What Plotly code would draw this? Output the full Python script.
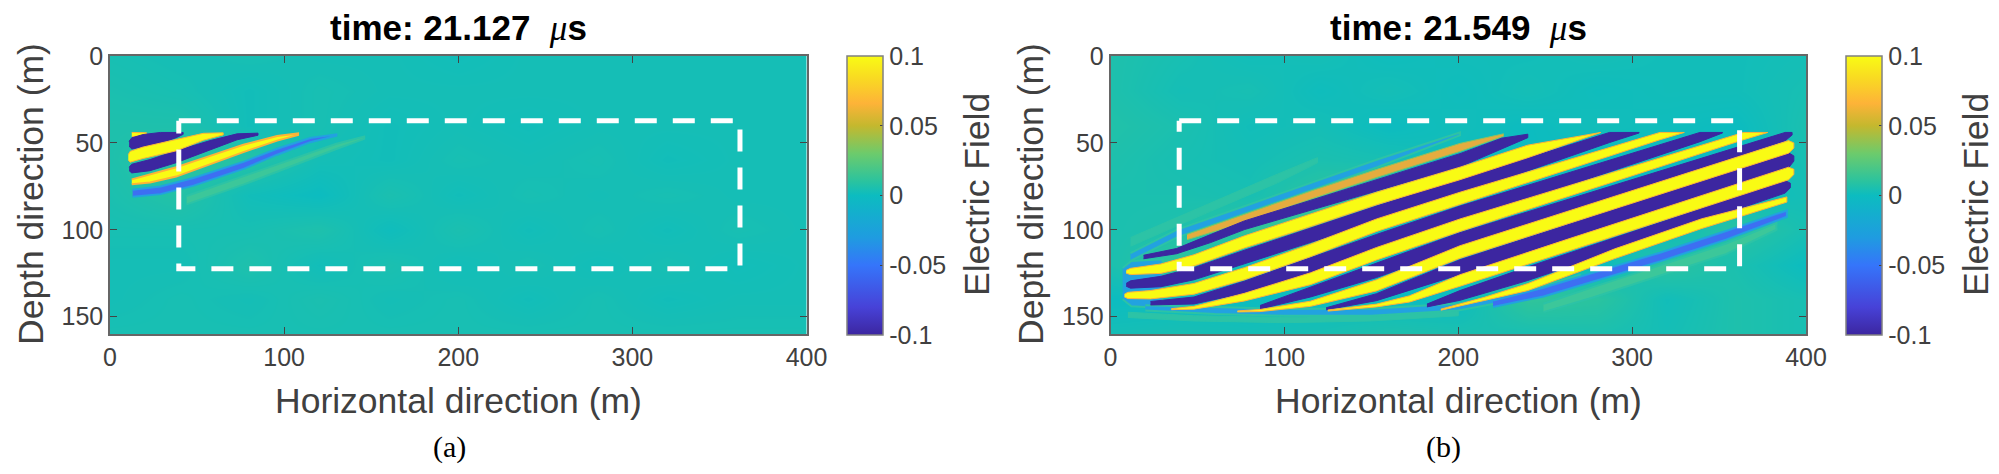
import numpy as np
import plotly.graph_objects as go

W, H = 1999, 474
TOP_DEPTH = 44.0

# ---------- axes / labels ----------
x_ticks = [0, 100, 200, 300, 400]
y_ticks = [0, 50, 100, 150]
cb_ticks = [-0.1, -0.05, 0, 0.05, 0.1]
cb_labels = ["-0.1", "-0.05", "0", "0.05", "0.1"]
times = ["21.127", "21.549"]
captions = ["(a)", "(b)"]

# dashed rectangle (m)
rect_x = [39.5, 361.8, 361.8, 39.5, 39.5]
rect_y = [37.2, 37.2, 122.5, 122.5, 37.2]

parula = [
    [0.00, "#3c26a0"], [0.10, "#4742d8"], [0.25, "#3575fa"], [0.35, "#1f9ce0"],
    [0.50, "#0cbcc0"], [0.55, "#2ac39f"], [0.65, "#6ccb6c"], [0.75, "#c4b82e"],
    [0.83, "#fdb338"], [0.92, "#f9da22"], [1.00, "#f9fb14"],
]

# ---------- faint background field, read on a coarse grid ----------
grid_x = [0, 40, 80, 120, 160, 200, 240, 280, 320, 360, 400]
grid_y = [0, 20, 40, 60, 80, 100, 120, 140, 160]
bg_a = [
    [.004, .003, .004, .003, .003, .002, .003, .003, .003, .003, .003],
    [.005, .004, .002, .004, .003, .003, .003, .003, .003, .003, .003],
    [.006, .006, .002, .004, .002, .003, .002, .003, .003, .003, .003],
    [.006, .010, .008, .003, .002, .004, .003, .004, .002, .003, .003],
    [.005, .008, .002, .000, .005, .002, .004, .003, .004, .003, .003],
    [.004, .004, .004, .006, .001, .005, .002, .004, .002, .004, .003],
    [.003, .003, .006, .002, .005, .002, .004, .002, .004, .002, .003],
    [.003, .004, .003, .005, .003, .004, .002, .004, .002, .003, .003],
    [.004, .004, .004, .004, .004, .004, .004, .004, .004, .004, .004],
]
bg_b = [
    [.006, .004, .002, .003, .001, .002, .002, .003, .002, .002, .003],
    [.006, .003, .004, .001, .003, .001, .003, .001, .002, .002, .004],
    [.007, .005, .002, .003, .000, .002, .000, .002, .001, .000, .005],
    [.006, .004, .003, .005, .004, .001, .000, .000, .000, .000, .004],
    [.005, .005, .004, .010, .012, .000, .000, .000, .000, .000, .003],
    [.005, .006, .012, .016, .000, .000, .000, .000, .000, .010, .004],
    [.005, .012, .000, .000, .000, .000, .000, .000, .010, .005, .000],
    [.000, .000, .000, .000, .000, .000, .012, .010, .002, .006, .004],
    [.003, .004, .003, .004, .006, .005, .004, .005, .003, .006, .004],
]

# ---------- panel (a): band centre x, depth, half width (m) ----------
a_green_x = [44, 77, 105, 130, 146]
a_green_d = [83, 71.5, 61, 52, 47]
a_green_w = [2.4, 2.4, 2.0, 1.5, 0.7]
a_blue_x = [13, 29, 48, 77, 96, 115, 130]
a_blue_d = [79, 77.3, 72.4, 62.8, 55.1, 48.4, 45.5]
a_blue_w = [2.0, 2.2, 2.2, 2.0, 1.7, 1.2, 0.4]
a_y0_x = [12.5, 16, 21]
a_y0_d = [45.2, 45.2, 45.0]
a_y0_w = [1.2, 1.2, 0.8]
a_p1_x = [11, 12.5, 19, 29, 38, 42]
a_p1_d = [50.5, 50.3, 48.8, 46.9, 45.2, 44.5]
a_p1_w = [1.5, 3.2, 3.6, 3.2, 1.8, 0.6]
a_y1_x = [10.5, 11.5, 19, 38, 53.6, 65]
a_y1_d = [58.3, 58, 55.7, 51.3, 46.5, 44.8]
a_y1_w = [1.5, 3.1, 3.3, 3.3, 2.0, 0.6]
a_p2_x = [11, 12.5, 23, 38, 57.5, 73, 85]
a_p2_d = [65, 64.8, 62.8, 58, 51.3, 46.5, 45]
a_p2_w = [1.0, 2.5, 3.2, 3.4, 2.6, 1.7, 0.6]
a_y2_x = [12.5, 23, 38, 57.5, 76.6, 96, 108]
a_y2_d = [72.4, 70.5, 66.7, 60, 53.2, 47.4, 45]
a_y2_w = [1.4, 2.3, 2.7, 2.5, 2.1, 1.3, 0.4]

# ---------- panel (b) ----------
b_under_x = [7, 12, 30]
b_under_d = [131, 131, 131]
b_under_w = [9, 13, 14]
b_env_x = [20, 60, 100, 150, 200, 240, 270]
b_env_d = [145, 146.5, 147.5, 147.5, 144.5, 137, 128]
b_env_w = [1.5, 2, 2, 2, 2, 2, 2]
b_gl_x = [10, 48, 100, 150, 200]
b_gl_d = [149, 151, 152, 151, 148]
b_gl_w = [1.5, 1.5, 1.5, 1.5, 1.5]
b_gt_x = [11.5, 57.5, 96, 119]
b_gt_d = [107, 86.9, 70.5, 60]
b_gt_w = [2.5, 2.5, 2.5, 1.5]
b_bt_x = [11.5, 38, 76.6, 115, 153, 201]
b_bt_d = [115.7, 102.3, 88.8, 75.3, 61.9, 44.6]
b_bt_w = [2.2, 2.2, 2.2, 2.2, 2.2, 1.0]
b_gb_x = [249, 277.5, 316, 354, 383]
b_gb_d = [145, 136, 123.5, 111, 98]
b_gb_w = [2.4, 3.0, 3.0, 3.0, 2.0]
b_bb_x = [220, 249, 277.5, 316, 354, 389]
b_bb_d = [142.6, 135.9, 127.3, 115.7, 103.2, 90.7]
b_bb_w = [1.8, 2.5, 2.5, 2.5, 2.5, 1.8]
b_o0_x = [44, 76.6, 115, 153, 201, 226]
b_o0_d = [104.2, 93.6, 80.1, 67.6, 52.6, 45.5]
b_o0_w = [1.5, 2.3, 2.3, 2.3, 2.3, 0.7]

b_p0_x = [19, 38, 57.5, 77, 115, 153, 201, 225, 240]
b_p0_d = [115.7, 112.3, 105.1, 97.4, 85.9, 74.4, 60, 50.3, 46]
b_p0_w = [1, 1.5, 2.3, 2.5, 2.8, 3.3, 3.8, 3.0, 1.0]
b_y1_x = [9, 11.5, 29, 48, 77, 115, 153, 201, 240, 282]
b_y1_d = [124.2, 124, 122.4, 117.6, 107, 94.6, 82, 67.6, 54.9, 40]
b_y1_w = [0.8, 1.8, 2.7, 3.2, 3.5, 3.6, 3.6, 3.6, 3.6, 3.6]
b_p1_x = [9, 11.5, 29, 48, 77, 115, 153, 201, 287, 304]
b_p1_d = [131.7, 131.5, 129.8, 125.3, 115.7, 103.2, 90.7, 75.3, 45.5, 40]
b_p1_w = [0.8, 2.1, 3.0, 3.5, 3.9, 4.3, 4.3, 4.3, 4.3, 4.3]
b_y2_x = [8, 10, 23, 48, 77, 115, 153, 201, 316, 330]
b_y2_d = [137.9, 137.8, 137.4, 134, 125.3, 111.9, 97.4, 82, 44.6, 40]
b_y2_w = [0.8, 1.8, 2.4, 3.1, 3.5, 3.6, 3.6, 3.6, 3.6, 3.6]
b_p2_x = [23, 48, 77, 115, 153, 201, 339, 352]
b_p2_d = [142.3, 140.7, 133, 120.5, 107, 90.7, 45, 40]
b_p2_w = [1, 2, 3.4, 4.3, 4.3, 4.3, 4.3, 4.3]
b_y3_x = [35, 48, 77, 115, 153, 201, 364, 378]
b_y3_d = [145.7, 144.9, 138.8, 128.2, 113.8, 97.4, 44.6, 40]
b_y3_w = [0.3, 0.8, 2.2, 3.4, 3.6, 3.6, 3.6, 3.6]
b_p3_x = [86, 115, 153, 201, 388, 392]
b_p3_d = [144.6, 135.9, 123.4, 106, 45.5, 44.5]
b_p3_w = [1, 2.8, 4.1, 4.3, 3.3, 1.0]
b_y4_x = [73, 86, 115, 153, 201, 390, 393]
b_y4_d = [147, 146.5, 142.6, 132, 112.8, 52.3, 51.5]
b_y4_w = [0.3, 0.6, 1.5, 3.2, 3.6, 3.6, 1.5]
b_p4_x = [124, 153, 172, 201, 390, 393]
b_p4_d = [145.5, 138.8, 132, 121.5, 60, 59]
b_p4_w = [0.6, 2, 3, 4.2, 4.3, 1.5]
b_y5_x = [125, 153, 172, 201, 260, 390, 393]
b_y5_d = [146.5, 143.6, 139.8, 129.2, 110, 67.6, 66.7]
b_y5_w = [0.3, 0.8, 1.8, 3.3, 3.6, 3.6, 1.5]
b_p5_x = [182, 201, 240, 388, 391]
b_p5_d = [143.6, 137.8, 125.3, 75.3, 74.5]
b_p5_w = [0.8, 2.8, 3.9, 3.6, 1.3]
b_y6_x = [190, 215, 240, 290, 340, 389]
b_y6_d = [146, 139.8, 133, 113.8, 96.5, 82.6]
b_y6_w = [0.3, 0.9, 2.0, 2.8, 2.8, 1.5]

YEL, YEL_E = "#f9fb14", "#fdb338"
PUR, PUR_E = "#3c26a0", "#3c26a0"
BLU, GRN, ORA, LBL = "#3d6ff2", "#3cc79a", "#e5ac3f", "#22a2e0"
FAINT = "#2cc3a6"

fig = go.Figure()


def band(x, d, w, fill, edge, ax, lw=1.0):
    x, d, w = np.array(x, float), np.array(d, float), np.array(w, float)
    top = np.maximum(d - w, TOP_DEPTH)
    bot = np.maximum(d + w, TOP_DEPTH)
    fig.add_trace(go.Scatter(
        x=np.r_[x, x[::-1]], y=np.r_[top, bot[::-1]], mode="lines", fill="toself",
        fillcolor=fill, line=dict(color=edge, width=lw),
        xaxis=ax[0], yaxis=ax[1], hoverinfo="skip", showlegend=False))


def heat(z, ax, cb_x):
    fig.add_trace(go.Heatmap(
        x=grid_x, y=grid_y, z=z, zmin=-0.1, zmax=0.1, zsmooth="best", colorscale=parula,
        xaxis=ax[0], yaxis=ax[1], hoverinfo="skip",
        colorbar=dict(
            x=cb_x / W, xanchor="left", xref="paper", y=(H - 335) / H, yanchor="bottom", yref="paper",
            len=279, lenmode="pixels", thickness=36, thicknessmode="pixels",
            tickmode="array", tickvals=cb_ticks, ticktext=cb_labels, ticks="inside", ticklen=3,
            tickcolor="#444444", outlinecolor="#808080", outlinewidth=1.5, ypad=0, xpad=0,
            tickfont=dict(family="Liberation Sans", size=25, color="#404040"))))


A, B = ("x", "y"), ("x2", "y2")
heat(bg_a, A, 847)
heat(bg_b, B, 1846)

# panel (a)
band(a_green_x, a_green_d, a_green_w, GRN, FAINT, A, 2)
band(a_blue_x, a_blue_d, a_blue_w, BLU, LBL, A, 2)
band(a_y0_x, a_y0_d, a_y0_w, YEL, YEL_E, A)
band(a_p1_x, a_p1_d, a_p1_w, PUR, PUR_E, A)
band(a_p2_x, a_p2_d, a_p2_w, PUR, PUR_E, A)
band(a_y1_x, a_y1_d, a_y1_w, YEL, YEL_E, A)
band(a_y2_x, a_y2_d, a_y2_w, YEL, YEL_E, A, 2)

# panel (b): faint halos first
band(b_under_x, b_under_d, b_under_w, LBL, FAINT, B, 2)
band(b_gl_x, b_gl_d, b_gl_w, FAINT, FAINT, B)
band(b_env_x, b_env_d, b_env_w, LBL, FAINT, B, 2)
band(b_gt_x, b_gt_d, b_gt_w, FAINT, FAINT, B)
band(b_bt_x, b_bt_d, b_bt_w, LBL, FAINT, B, 2)
band(b_gb_x, b_gb_d, b_gb_w, GRN, FAINT, B, 2)
band(b_bb_x, b_bb_d, b_bb_w, BLU, LBL, B, 2)
band(b_o0_x, b_o0_d, b_o0_w, ORA, "#8fc060", B)
for x_, d_, w_ in [(b_p0_x, b_p0_d, b_p0_w), (b_p1_x, b_p1_d, b_p1_w), (b_p2_x, b_p2_d, b_p2_w),
                   (b_p3_x, b_p3_d, b_p3_w), (b_p4_x, b_p4_d, b_p4_w), (b_p5_x, b_p5_d, b_p5_w)]:
    band(x_, d_, w_, PUR, PUR_E, B)
for x_, d_, w_ in [(b_y1_x, b_y1_d, b_y1_w), (b_y2_x, b_y2_d, b_y2_w), (b_y3_x, b_y3_d, b_y3_w),
                   (b_y4_x, b_y4_d, b_y4_w), (b_y5_x, b_y5_d, b_y5_w), (b_y6_x, b_y6_d, b_y6_w)]:
    band(x_, d_, w_, YEL, YEL_E, B)

# dashed rectangles
for ax in (A, B):
    fig.add_trace(go.Scatter(x=rect_x, y=rect_y, mode="lines", xaxis=ax[0], yaxis=ax[1],
                             line=dict(color="white", width=5, dash="22px,16px"),
                             hoverinfo="skip", showlegend=False))

axis_common = dict(showgrid=False, zeroline=False, showline=True, mirror="ticks", linecolor="#666666",
                   linewidth=1.5, ticks="inside", ticklen=7, tickcolor="#444444", tickwidth=1,
                   tickfont=dict(family="Liberation Sans", size=25, color="#404040"))
xdom = [[110 / W, 806.5 / W], [1110.5 / W, 1806 / W]]
ydom = [(H - 334) / H, (H - 56) / H]

fig.update_layout(
    width=W, height=H, margin=dict(l=0, r=0, t=0, b=0, autoexpand=False),
    paper_bgcolor="white", plot_bgcolor="white",
    xaxis=dict(domain=xdom[0], range=[0, 400], tickvals=x_ticks, anchor="y", **axis_common),
    yaxis=dict(domain=ydom, range=[160, 0], tickvals=y_ticks, anchor="x", **axis_common),
    xaxis2=dict(domain=xdom[1], range=[0, 400], tickvals=x_ticks, anchor="y2", **axis_common),
    yaxis2=dict(domain=ydom, range=[160, 0], tickvals=y_ticks, anchor="x2", **axis_common),
)


def label(text, px, py, size, color="#404040", family="Liberation Sans", angle=0):
    fig.add_annotation(text=text, x=px / W, y=1 - py / H, xref="paper", yref="paper", showarrow=False,
                       xanchor="center", yanchor="middle", textangle=angle,
                       font=dict(family=family, size=size, color=color))


MU = '<span style="font-family:Liberation Serif"><i>&#956;</i></span>'
for i, off in enumerate((0, 1000)):
    label(f"<b>time: {times[i]} </b> {MU}<b>s</b>", 458 + off, 28, 35, color="#000000")
    label("Horizontal direction (m)", 458.5 + off, 401, 35.5)
    label("Depth direction (m)", 31 + off, 194, 35.5, angle=-90)
    label("Electric Field", 977 + off - (1 if i else 0), 195, 35.5, angle=-90)
    label(captions[i], (449, 1443)[i], 447, 30, color="#000000", family="Liberation Serif")

fig.write_html("out.html", config={"displayModeBar": False},
               post_script="document.body.style.margin='0';")
